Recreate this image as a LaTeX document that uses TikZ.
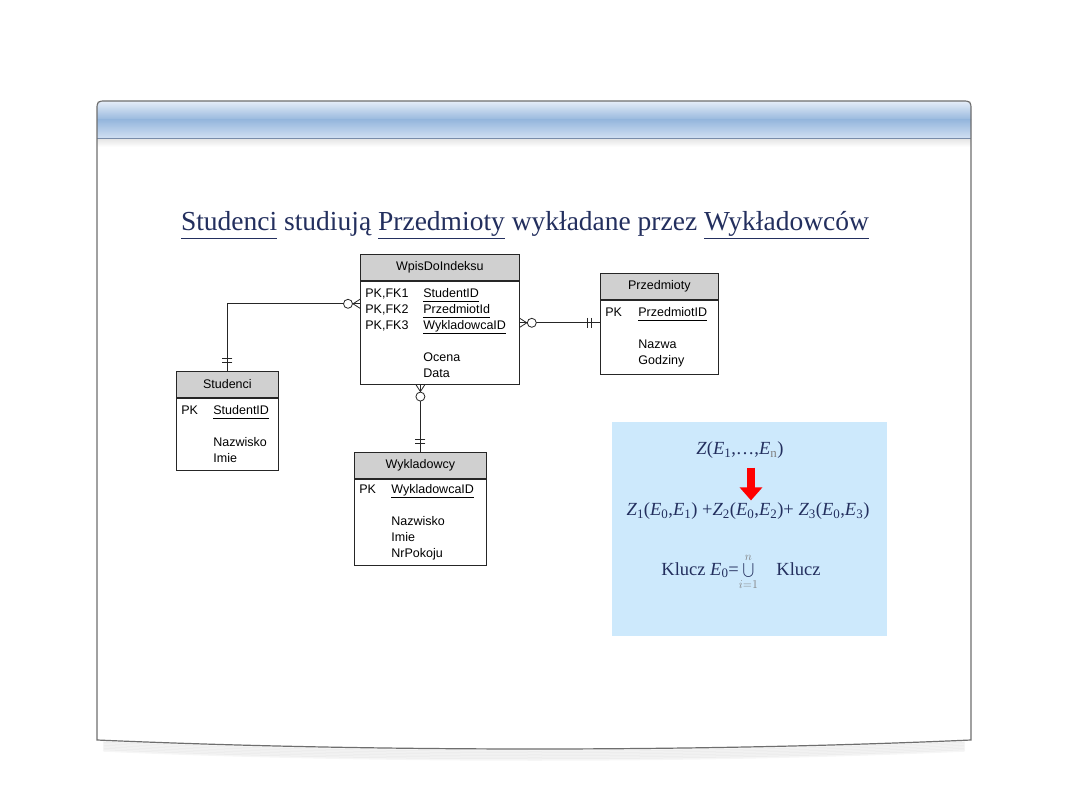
\documentclass[tikz,border=0pt]{standalone}
\usepackage{fontspec}
\setmainfont{Liberation Serif}
\newfontfamily\boxfont{Liberation Sans}
\definecolor{titlenavy}{RGB}{35,47,94}
\definecolor{headgray}{RGB}{208,208,208}
\definecolor{framegray}{RGB}{110,110,110}
\definecolor{bandtop}{RGB}{234,241,250}
\definecolor{bandmid}{RGB}{150,183,221}
\definecolor{bandbot}{RGB}{208,223,242}
\definecolor{bandline}{RGB}{120,140,170}
\definecolor{formulablue}{RGB}{205,233,252}
\usetikzlibrary{calc, positioning, arrows.meta}
\newcommand{\ulword}[1]{\underline{#1\vphantom{y}}}
\newcommand{\Ev}[1]{\textit{E}\textsubscript{#1}}

\begin{document}
\begin{tikzpicture}[x=1pt, y=-1pt,
    ehead/.style={draw=black!85, line width=0.8pt, fill=headgray, minimum width=#1,
      minimum height=26pt, inner sep=0pt, anchor=north west,
      font=\boxfont\fontsize{12.5}{16}\selectfont},
    ebody/.style={draw=black!85, line width=0.8pt, fill=white, text width=#1,
      inner xsep=5pt, inner ysep=3pt, align=left,
      font=\boxfont\fontsize{12.5}{16}\selectfont},
    erline/.style={draw=black!85, line width=0.8pt},
    fml/.style={text=titlenavy, inner sep=0pt, font=\fontsize{18.5}{22}\selectfont},
    onebar/.pic={\draw[erline] (-9,-5) -- (-9,5) (-13,-5) -- (-13,5);},
    zeromany/.pic={\draw[erline] (-7,0) -- (0,-4.5) (-7,0) -- (0,4.5);
      \draw[erline, fill=white] (-12,0) circle[radius=4.5pt];},
    node distance=0pt,
  ]
    \useasboundingbox (0,0) rectangle (1080,810);

    % slide frame
    \foreach \i in {1,...,7}
      \draw[black, opacity=0.035, line width=2.5pt, line cap=round]
        (104,740+1.5*\i) .. controls (370,752+1.5*\i) and (700,752+1.5*\i) .. (964,740+1.5*\i);
    \fill[white] (97,740) -- (97,111) .. controls (97,101) .. (107,101) -- (961,101)
      .. controls (971,101) .. (971,111) -- (971,740) .. controls (700,752) and (370,752) .. cycle;
    \begin{scope}
      \clip (97,138) -- (97,111) .. controls (97,101) .. (107,101) -- (961,101)
        .. controls (971,101) .. (971,111) -- (971,138) -- cycle;
      \shade[top color=bandtop, bottom color=bandmid] (97,100) rectangle (971,120);
      \shade[top color=bandmid, bottom color=bandbot] (97,120) rectangle (971,138);
    \end{scope}
    \shade[top color=black!10, bottom color=white] (97.6,139) rectangle (970.4,147);
    \draw[bandline, line width=1pt] (97,138.5) -- (971,138.5);
    \draw[framegray, line width=1.2pt] (97,740) -- (97,111) .. controls (97,101) .. (107,101) -- (961,101)
      .. controls (971,101) .. (971,111) -- (971,740) .. controls (700,752) and (370,752) .. cycle;

    \node[anchor=base, text=titlenavy, font=\fontsize{27.5}{33}\selectfont] (title) at (525,231)
      {\ulword{Studenci} studiują \ulword{Przedmioty} wykładane przez \ulword{Wykładowców}};

    % entities
    \node[ehead=159pt] (wpis-h) at (360,254) {WpisDoIndeksu};
    \node[ebody=149pt, minimum height=103pt, below=of wpis-h] (wpis-b)
      {\makebox[58pt][l]{PK,FK1}\ulword{StudentID}\\
       \makebox[58pt][l]{PK,FK2}\ulword{PrzedmiotId}\\
       \makebox[58pt][l]{PK,FK3}\ulword{WykladowcaID}\\
       \mbox{}\\
       \hspace*{58pt}Ocena\\
       \hspace*{58pt}Data};

    \node[ehead=118pt] (przed-h) at (600,273) {Przedmioty};
    \node[ebody=108pt, minimum height=74pt, below=of przed-h] (przed-b)
      {\makebox[33pt][l]{PK}\ulword{PrzedmiotID}\\
       \mbox{}\\
       \hspace*{33pt}Nazwa\\
       \hspace*{33pt}Godziny};

    \node[ehead=102pt] (stud-h) at (176,371) {Studenci};
    \node[ebody=92pt, minimum height=72pt, below=of stud-h] (stud-b)
      {\makebox[32pt][l]{PK}\ulword{StudentID}\\
       \mbox{}\\
       \hspace*{32pt}Nazwisko\\
       \hspace*{32pt}Imie};

    \node[ehead=132pt] (wykl-h) at (354,452) {Wykladowcy};
    \node[ebody=122pt, minimum height=86pt, below=of wykl-h] (wykl-b)
      {\makebox[32pt][l]{PK}\ulword{WykladowcaID}\\
       \mbox{}\\
       \hspace*{32pt}Nazwisko\\
       \hspace*{32pt}Imie\\
       \hspace*{32pt}NrPokoju};

    % relationships
    \coordinate (wp-l) at ([yshift=-23pt]wpis-b.north west);
    \coordinate (wp-r) at ([yshift=-42pt]wpis-b.north east);
    \draw[erline] (stud-h.north) |- (wp-l);
    \draw[erline] (wp-r) -- (wp-r -| przed-b.west);
    \draw[erline] (wpis-b.south -| wykl-h.north) -- (wykl-h.north);
    \pic[rotate=-90] at (stud-h.north) {onebar};
    \pic at (wp-l) {zeromany};
    \pic[rotate=180] at (wp-r) {zeromany};
    \pic at (wp-r -| przed-b.west) {onebar};
    \pic[rotate=90] at (wpis-b.south -| wykl-h.north) {zeromany};
    \pic[rotate=-90] at (wykl-h.north) {onebar};

    % decomposition
    \node[fill=formulablue, minimum width=275pt, minimum height=214pt, inner sep=0pt,
      anchor=north west] (fbox) at (612,422) {};
    \node[fml] (f1) at (740,450) {\textit{Z}(\Ev{1},…,\Ev{\textcolor{gray}{n}})};
    \node[fml] (f2) at (748,511)
      {\textit{Z}\textsubscript{1}(\Ev{0},\Ev{1}) +\textit{Z}\textsubscript{2}(\Ev{0},\Ev{2})+ \textit{Z}\textsubscript{3}(\Ev{0},\Ev{3})};
    \node[fml] (f3) at (741,572)
      {Klucz \Ev{0}=$\displaystyle\bigcup_{\textcolor{gray}{i=1}}^{\textcolor{gray}{n}}$\quad Klucz};
    \draw[-{Triangle[length=13pt,width=22pt]}, line width=8pt, red, shorten <=9pt, shorten >=2pt]
      ([xshift=11pt]f1.south) -- ([xshift=3pt]f2.north);
  \end{tikzpicture}
\end{document}
